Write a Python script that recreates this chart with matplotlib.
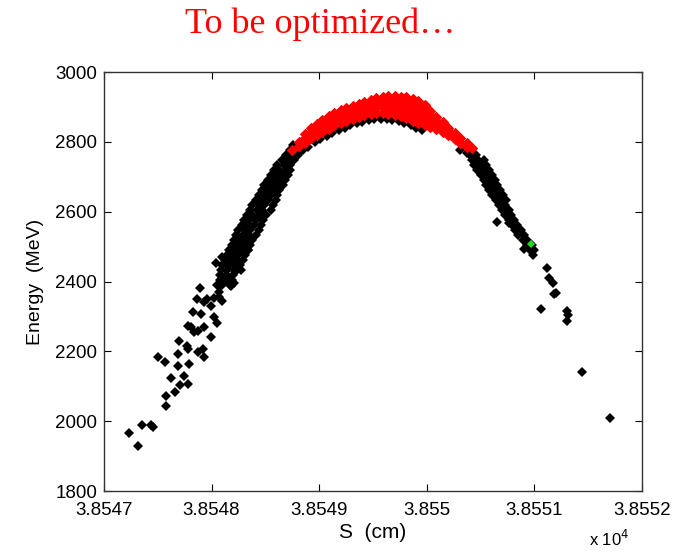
import matplotlib
matplotlib.use('Agg')
import matplotlib.pyplot as plt

# S in cm, Energy in MeV
# sparse black points, lower left
black_sparse = [
    (38547.23, 1966), (38547.32, 1929), (38547.35, 1989), (38547.44, 1989), (38547.46, 1983),
    (38547.50, 2183), (38547.57, 2169), (38547.58, 2071), (38547.58, 2043), (38547.62, 2123),
    (38547.66, 2083), (38547.69, 2157), (38547.69, 2191), (38547.70, 2229), (38547.71, 2103),
    (38547.74, 2129), (38547.78, 2106), (38547.77, 2214), (38547.78, 2206), (38547.79, 2163),
    (38547.78, 2274), (38547.81, 2271), (38547.83, 2314), (38547.84, 2254), (38547.87, 2257),
    (38547.90, 2306), (38547.87, 2197), (38547.92, 2206), (38547.93, 2183), (38547.93, 2271),
    (38547.89, 2380), (38547.86, 2349), (38547.93, 2340), (38547.96, 2349), (38547.99, 2240),
    (38548.02, 2297), (38548.05, 2280), (38547.99, 2329), (38548.02, 2354), (38548.07, 2371),
    (38548.09, 2389), (38548.11, 2403), (38548.04, 2454), (38548.10, 2471), (38548.15, 2443),
    (38548.07, 2357), (38548.10, 2343), (38548.18, 2386), (38548.21, 2397), (38548.15, 2414),
    (38548.24, 2463), (38548.27, 2434), (38548.30, 2483), (38548.34, 2491),
]

# dense black band on the rising side
black_band = [
    (38548.05, 2391), (38548.10, 2391), (38548.17, 2391),
    (38548.08, 2405), (38548.13, 2405), (38548.19, 2405),
    (38548.08, 2419), (38548.13, 2419), (38548.20, 2419),
    (38548.09, 2434), (38548.14, 2434), (38548.21, 2434), (38548.24, 2434),
    (38548.10, 2448), (38548.16, 2448), (38548.22, 2448), (38548.26, 2448),
    (38548.12, 2462), (38548.18, 2462), (38548.23, 2462), (38548.29, 2462),
    (38548.14, 2477), (38548.20, 2477), (38548.25, 2477), (38548.31, 2477),
    (38548.16, 2491), (38548.22, 2491), (38548.27, 2491), (38548.34, 2491),
    (38548.19, 2505), (38548.24, 2505), (38548.30, 2505), (38548.36, 2505),
    (38548.21, 2520), (38548.26, 2520), (38548.32, 2520), (38548.38, 2520),
    (38548.23, 2534), (38548.29, 2534), (38548.35, 2534), (38548.41, 2534),
    (38548.25, 2548), (38548.31, 2548), (38548.36, 2548), (38548.44, 2548),
    (38548.28, 2562), (38548.34, 2562), (38548.39, 2562), (38548.46, 2562),
    (38548.30, 2577), (38548.35, 2577), (38548.41, 2577), (38548.48, 2577),
    (38548.33, 2591), (38548.38, 2591), (38548.44, 2591), (38548.51, 2591),
    (38548.36, 2605), (38548.42, 2605), (38548.47, 2605), (38548.55, 2605),
    (38548.38, 2620), (38548.44, 2620), (38548.49, 2620), (38548.57, 2620),
    (38548.41, 2634), (38548.47, 2634), (38548.52, 2634), (38548.60, 2634),
    (38548.44, 2648), (38548.49, 2648), (38548.55, 2648), (38548.61, 2648),
    (38548.47, 2663), (38548.52, 2663), (38548.58, 2663), (38548.63, 2663),
    (38548.49, 2677), (38548.55, 2677), (38548.60, 2677), (38548.66, 2677),
    (38548.52, 2691), (38548.58, 2691), (38548.63, 2691), (38548.68, 2691),
    (38548.55, 2706), (38548.60, 2706), (38548.66, 2706), (38548.71, 2706),
    (38548.58, 2720), (38548.63, 2720), (38548.69, 2720), (38548.73, 2720),
    (38548.61, 2734), (38548.67, 2734), (38548.73, 2734),
    (38548.65, 2748), (38548.71, 2748), (38548.77, 2748),
    (38548.69, 2763), (38548.74, 2763), (38548.80, 2763),
    (38548.73, 2777), (38548.78, 2777), (38548.83, 2777),
    (38548.76, 2791), (38548.82, 2791), (38548.86, 2791),
]

# black points showing under the lower edge of the red cloud
black_under = [
    (38548.79, 2771), (38548.85, 2777), (38548.90, 2786), (38548.96, 2800), (38549.01, 2808),
    (38549.07, 2817), (38549.12, 2826), (38549.18, 2834), (38549.24, 2840), (38549.29, 2848),
    (38549.35, 2854), (38549.40, 2857), (38549.46, 2863), (38549.51, 2866), (38549.57, 2866),
    (38549.63, 2866), (38549.68, 2863), (38549.74, 2860), (38549.79, 2854), (38549.85, 2848),
    (38549.90, 2840), (38549.96, 2834), (38550.31, 2777), (38550.37, 2768),
]

# black tail on the falling side
black_tail = [
    (38550.40, 2763), (38550.46, 2763),
    (38550.42, 2748), (38550.48, 2748), (38550.53, 2748),
    (38550.44, 2734), (38550.50, 2734), (38550.55, 2734),
    (38550.47, 2720), (38550.53, 2720), (38550.58, 2720),
    (38550.50, 2706), (38550.55, 2706), (38550.61, 2706),
    (38550.53, 2691), (38550.58, 2691), (38550.63, 2691),
    (38550.55, 2677), (38550.61, 2677), (38550.65, 2677),
    (38550.58, 2663), (38550.64, 2663), (38550.68, 2663),
    (38550.61, 2648), (38550.66, 2648), (38550.71, 2648),
    (38550.64, 2634), (38550.69, 2634), (38550.74, 2634),
    (38550.67, 2620), (38550.73, 2620),
    (38550.70, 2605), (38550.76, 2605),
    (38550.73, 2591), (38550.78, 2591),
    (38550.76, 2577), (38550.81, 2577),
    (38550.79, 2562), (38550.84, 2562),
    (38550.82, 2548), (38550.88, 2548),
    (38550.85, 2534), (38550.90, 2534),
    (38550.89, 2520), (38550.93, 2520),
    (38550.93, 2505), (38550.98, 2505),
    (38550.96, 2491), (38551.00, 2491),
    (38550.99, 2477),
    (38550.65, 2571), (38550.76, 2568), (38550.90, 2494), (38551.12, 2439), (38551.14, 2411),
    (38551.17, 2397), (38551.20, 2368), (38551.18, 2365), (38551.06, 2322), (38551.30, 2316),
    (38551.31, 2305), (38551.30, 2288), (38551.44, 2142), (38551.70, 2010),
]

# red cloud near the top (optimized region)
red_pts = [
    (38548.75, 2777),
    (38548.81, 2800), (38548.81, 2788),
    (38548.87, 2823), (38548.87, 2810), (38548.87, 2797),
    (38548.92, 2840), (38548.92, 2826), (38548.92, 2811),
    (38548.98, 2851), (38548.98, 2836), (38548.98, 2820),
    (38549.03, 2863), (38549.03, 2851), (38549.03, 2839), (38549.03, 2828),
    (38549.09, 2874), (38549.09, 2862), (38549.09, 2849), (38549.09, 2837),
    (38549.14, 2883), (38549.14, 2871), (38549.14, 2860), (38549.14, 2848),
    (38549.20, 2891), (38549.20, 2879), (38549.20, 2866), (38549.20, 2854),
    (38549.25, 2897), (38549.25, 2885), (38549.25, 2872), (38549.25, 2860),
    (38549.31, 2903), (38549.31, 2891), (38549.31, 2878), (38549.31, 2866),
    (38549.37, 2908), (38549.37, 2896), (38549.37, 2883), (38549.37, 2871),
    (38549.42, 2914), (38549.42, 2902), (38549.42, 2889), (38549.42, 2877),
    (38549.48, 2920), (38549.48, 2907), (38549.48, 2893), (38549.48, 2880),
    (38549.53, 2926), (38549.53, 2912), (38549.53, 2897), (38549.53, 2883),
    (38549.59, 2928), (38549.59, 2914), (38549.59, 2899), (38549.59, 2883),
    (38549.64, 2931), (38549.64, 2917), (38549.64, 2903), (38549.64, 2890), (38549.64, 2880),
    (38549.70, 2931), (38549.70, 2918), (38549.70, 2904), (38549.70, 2890), (38549.70, 2877),
    (38549.76, 2928), (38549.76, 2915), (38549.76, 2901), (38549.76, 2887), (38549.76, 2874),
    (38549.81, 2928), (38549.81, 2913), (38549.81, 2898), (38549.81, 2883), (38549.81, 2868),
    (38549.87, 2923), (38549.87, 2908), (38549.87, 2892), (38549.87, 2876), (38549.87, 2860),
    (38549.92, 2917), (38549.92, 2901), (38549.92, 2885), (38549.92, 2869), (38549.92, 2854),
    (38549.98, 2906), (38549.98, 2892), (38549.98, 2877), (38549.98, 2862), (38549.98, 2848),
    (38550.03, 2888), (38550.03, 2873), (38550.03, 2858), (38550.03, 2843),
    (38550.09, 2871), (38550.09, 2860), (38550.09, 2848), (38550.09, 2837),
    (38550.15, 2857), (38550.15, 2843), (38550.15, 2828),
    (38550.20, 2840), (38550.20, 2830), (38550.20, 2820),
    (38550.26, 2826), (38550.26, 2817), (38550.26, 2808),
    (38550.31, 2811), (38550.31, 2797),
    (38550.37, 2797), (38550.37, 2786),
    (38550.42, 2783),
]

green_pt = [(38550.97, 2508)]

xticks = [38547, 38548, 38549, 38550, 38551, 38552]
xticklabels = ['3.8547', '3.8548', '3.8549', '3.855', '3.8551', '3.8552']
yticks = [1800, 2000, 2200, 2400, 2600, 2800, 3000]

plt.rcParams['font.family'] = ['Liberation Sans', 'DejaVu Sans']

fig = plt.figure(figsize=(6.77, 5.53), dpi=100)
ax = fig.add_axes([0.1536, 0.1121, 0.7947, 0.7577])

black = black_sparse + black_band + black_under + black_tail
ax.plot([p[0] for p in black], [p[1] for p in black], 'D', color='black',
        markersize=5.0, markeredgewidth=0)
ax.plot([p[0] for p in red_pts], [p[1] for p in red_pts], 'D', color='#ff0000',
        markersize=5.4, markeredgewidth=0.8, markeredgecolor='#ff0000')
ax.plot([p[0] for p in green_pt], [p[1] for p in green_pt], 'D', color='#22dd22',
        markersize=4, markeredgewidth=0)

ax.set_xlim(38547, 38552)
ax.set_ylim(1800, 3000)
ax.set_xticks(xticks)
ax.set_xticklabels(xticklabels)
ax.set_yticks(yticks)
ax.tick_params(direction='in', top=True, right=True, length=5, width=0.8,
               labelsize=13.5)
ax.tick_params(axis='x', pad=8)
ax.tick_params(axis='y', pad=5)
for sp in ax.spines.values():
    sp.set_linewidth(1.0)
    sp.set_color('#333333')

ax.set_xlabel('S  (cm)', fontsize=15, labelpad=3)
ax.set_ylabel('Energy  (MeV)', fontsize=14, labelpad=8)
fig.text(0.9, 0.012, r'x 10$^{4}$', fontsize=12, ha='center', va='baseline')

fig.text(0.473, 0.94, 'To be optimized…', color='red', fontsize=26,
         family=['Liberation Serif', 'DejaVu Serif'], ha='center', va='baseline')

fig.savefig('out.png', dpi=100)
